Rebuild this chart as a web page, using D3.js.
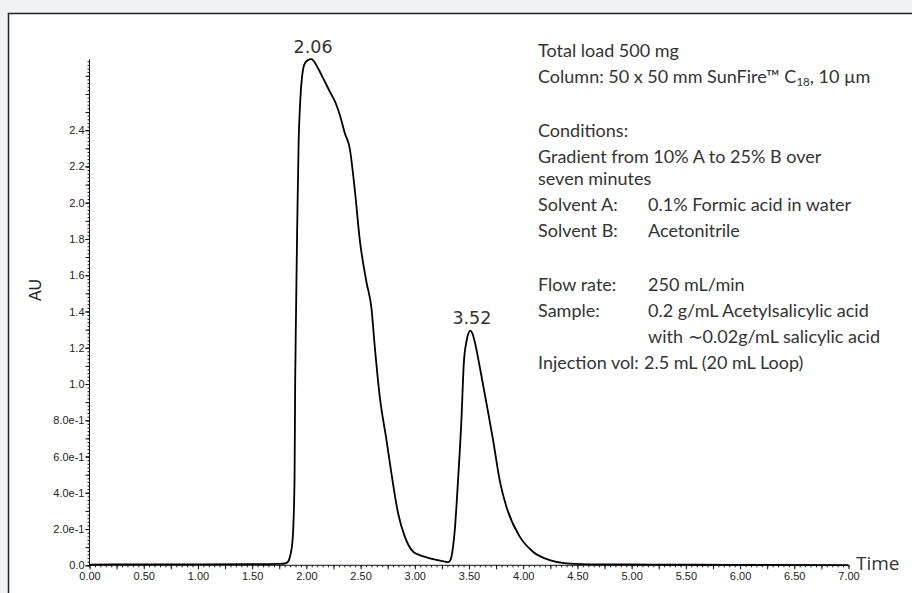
<!DOCTYPE html>
<html>
<head>
<meta charset="utf-8">
<script src="https://cdn.jsdelivr.net/npm/d3@7"></script>
<style>
  html, body { margin: 0; padding: 0; background: #eff3f6; }
  svg { display: block; }
  .axis text { font-family: "Liberation Sans", Arial, sans-serif; font-size: 11px; fill: #222; }
  .axis path, .axis line { stroke: #111; }
  .note { font-family: Lato, "Open Sans", sans-serif; font-size: 18px; fill: #333; }
</style>
</head>
<body>
<div id="chart-area"></div>
<script>
// chromatogram trace, time in minutes vs AU
var times = [0.00, 0.50, 1.00, 1.50, 1.75, 1.80, 1.823, 1.85, 1.873, 1.891, 1.897, 1.905, 1.915, 1.928, 1.946, 1.98, 2.01, 2.048, 2.07, 2.109, 2.16, 2.217, 2.27, 2.309, 2.355, 2.40, 2.447, 2.493, 2.555, 2.60, 2.631, 2.677, 2.739, 2.794, 2.846, 2.908, 2.984, 3.05, 3.108, 3.20, 3.28, 3.307, 3.325, 3.338, 3.369, 3.399, 3.43, 3.452, 3.476, 3.495, 3.513, 3.53, 3.553, 3.599, 3.661, 3.722, 3.783, 3.845, 3.968, 4.09, 4.244, 4.398, 4.70, 5.20, 6.00, 7.00];
var au = [0.004, 0.005, 0.005, 0.006, 0.008, 0.010, 0.015, 0.05, 0.14, 0.47, 1.02, 1.40, 1.85, 2.31, 2.585, 2.76, 2.785, 2.792, 2.78, 2.74, 2.68, 2.612, 2.55, 2.484, 2.383, 2.30, 2.07, 1.794, 1.56, 1.42, 1.206, 0.93, 0.691, 0.47, 0.287, 0.158, 0.075, 0.055, 0.044, 0.030, 0.020, 0.018, 0.025, 0.047, 0.195, 0.47, 0.80, 1.114, 1.233, 1.28, 1.294, 1.28, 1.233, 1.095, 0.894, 0.691, 0.47, 0.323, 0.158, 0.075, 0.029, 0.011, 0.005, 0.004, 0.002, 0.001];

var peakTimes = [2.048, 3.513];
var peakValues = [2.792, 1.294];
var peakLabels = ["2.06", "3.52"];

var yTickValues = [0, 0.2, 0.4, 0.6, 0.8, 1.0, 1.2, 1.4, 1.6, 1.8, 2.0, 2.2, 2.4];
var yTickLabels = ["0.0", "2.0e-1", "4.0e-1", "6.0e-1", "8.0e-1", "1.0", "1.2", "1.4", "1.6", "1.8", "2.0", "2.2", "2.4"];
var xTickValues = [0, 0.5, 1, 1.5, 2, 2.5, 3, 3.5, 4, 4.5, 5, 5.5, 6, 6.5, 7];
var xTickLabels = ["0.00", "0.50", "1.00", "1.50", "2.00", "2.50", "3.00", "3.50", "4.00", "4.50", "5.00", "5.50", "6.00", "6.50", "7.00"];

var width = 912;
var height = 593;

var x = d3.scaleLinear()
    .domain([0, 7])
    .range([89.5, 848.5]);

var y = d3.scaleLinear()
    .domain([0, 2.79])
    .range([565.3, 565.3 - 2.79 * 181.3]);

var svg = d3.select("#chart-area")
  .append("svg")
    .attr("width", width)
    .attr("height", height);

// white panel with frame (right and bottom edges run off the picture)
svg.append("rect")
    .attr("x", 8.5)
    .attr("y", 13.5)
    .attr("width", 920)
    .attr("height", 600)
    .attr("fill", "white")
    .attr("stroke", "#222")
    .attr("stroke-width", 1.5);

// minor ticks
var yMinor = d3.range(0, 2.781, 0.02);
var yMid = d3.range(0, 2.781, 0.1);
var xMinor = d3.range(0, 7.001, 0.05);
var xMid = d3.range(0, 7.001, 0.25);

svg.append("g")
    .attr("class", "axis")
    .attr("transform", "translate(" + x(0) + ",0)")
    .call(d3.axisLeft(y).tickValues(yMinor).tickSize(2).tickFormat(""))
    .call(g => g.select(".domain").remove());

svg.append("g")
    .attr("class", "axis")
    .attr("transform", "translate(" + x(0) + ",0)")
    .call(d3.axisLeft(y).tickValues(yMid).tickSize(4).tickFormat(""))
    .call(g => g.select(".domain").remove());

var yAxis = svg.append("g")
    .attr("class", "axis")
    .attr("transform", "translate(" + x(0) + ",0)")
    .call(d3.axisLeft(y)
        .tickValues(yTickValues)
        .tickSize(4)
        .tickPadding(1)
        .tickFormat((d, i) => yTickLabels[i]));
yAxis.select(".domain")
    .attr("d", "M0," + y(0) + "V" + y(2.79));

svg.append("g")
    .attr("class", "axis")
    .attr("transform", "translate(0," + y(0) + ")")
    .call(d3.axisBottom(x).tickValues(xMinor).tickSize(2).tickFormat(""))
    .call(g => g.select(".domain").remove());

var xAxis = svg.append("g")
    .attr("class", "axis")
    .attr("transform", "translate(0," + y(0) + ")")
    .call(d3.axisBottom(x)
        .tickValues(xMid)
        .tickSize(4)
        .tickPadding(3)
        .tickFormat((d) => {
            var i = xTickValues.indexOf(d);
            return i >= 0 ? xTickLabels[i] : "";
        }));
xAxis.select(".domain")
    .attr("d", "M" + x(0) + ",0H" + x(7));

// axis titles
svg.append("text")
    .attr("transform", "translate(41,290) rotate(-90)")
    .attr("text-anchor", "middle")
    .attr("font-family", "Liberation Sans, Arial, sans-serif")
    .attr("font-size", "16px")
    .attr("fill", "#222")
    .text("AU");

svg.append("text")
    .attr("x", 856)
    .attr("y", 570)
    .attr("font-family", "Open Sans, sans-serif")
    .attr("font-size", "19px")
    .attr("fill", "#333")
    .text("Time");

// trace
var points = times.map((t, i) => [t, au[i]]);
var line = d3.line()
    .x((d) => x(d[0]))
    .y((d) => y(d[1]))
    .curve(d3.curveMonotoneX);

svg.append("path")
    .datum(points)
    .attr("d", line)
    .attr("fill", "none")
    .attr("stroke", "#000")
    .attr("stroke-width", 1.8)
    .attr("stroke-linejoin", "round");

// peak labels
svg.selectAll(".peak")
    .data(peakTimes)
  .enter().append("text")
    .attr("class", "peak")
    .attr("x", (d) => x(d) + 1.5)
    .attr("y", (d, i) => y(peakValues[i]) - 6.5)
    .attr("text-anchor", "middle")
    .attr("font-family", "DejaVu Sans, sans-serif")
    .attr("font-size", "17.5px")
    .attr("fill", "#333")
    .text((d, i) => peakLabels[i]);

// method notes
var notes = svg.append("g").attr("class", "note");
var left = 538;
var tab = 648;

function note(txt, xx, yy) {
    return notes.append("text").attr("x", xx).attr("y", yy).text(txt);
}

note("Total load 500 mg", left, 57);
var col = note("Column: 50 x 50 mm SunFire\u2122 C", left, 83);
col.append("tspan").attr("font-size", "11.5px").attr("dy", 3).text("18");
col.append("tspan").attr("dy", -3).text(", 10 \u00b5m");
note("Conditions:", left, 137);
note("Gradient from 10% A to 25% B over", left, 163);
note("seven minutes", left, 185);
note("Solvent A:", left, 211);
note("0.1% Formic acid in water", tab, 211);
note("Solvent B:", left, 237);
note("Acetonitrile", tab, 237);
note("Flow rate:", left, 291);
note("250 mL/min", tab, 291);
note("Sample:", left, 317);
note("0.2 g/mL Acetylsalicylic acid", tab, 317);
note("with \u223c0.02g/mL salicylic acid", tab, 343);
note("Injection vol:", left, 369);
note("2.5 mL (20 mL Loop)", 644, 369);
</script>
</body>
</html>
